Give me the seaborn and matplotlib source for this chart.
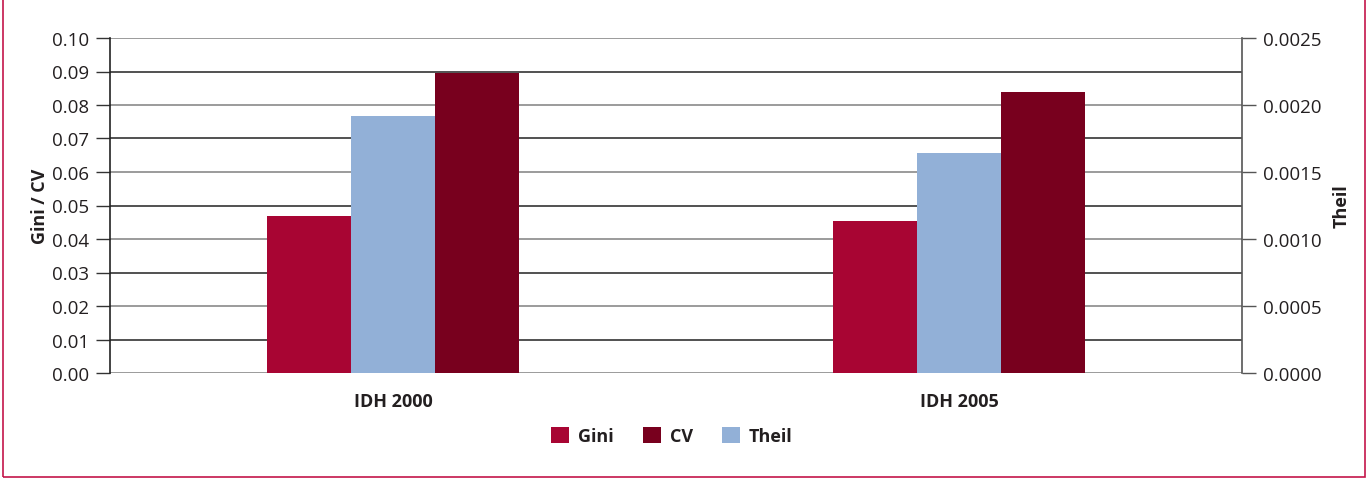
import pandas as pd
import numpy as np
import matplotlib
matplotlib.use("Agg")
import matplotlib.pyplot as plt
import seaborn as sns
from matplotlib.patches import Patch, Rectangle

# Datos
categorias = ["IDH 2000", "IDH 2005"]
gini = [0.0469, 0.0454]
cv = [0.0896, 0.0839]
theil = [0.00192, 0.00164]   # eje secundario

colores = {"Gini": "#A80533", "Theil": "#92B0D7", "CV": "#78001E"}
ylim_izq = 0.10
ylim_der = 0.0025

sns.set_theme(style="white")
plt.rcParams["font.family"] = ["Open Sans", "DejaVu Sans"]

# Theil se lleva a la escala del eje izquierdo para que comparta el grupo de barras
escala = ylim_izq / ylim_der
df = pd.DataFrame({
    "cat": categorias * 3,
    "serie": ["Gini"] * 2 + ["Theil"] * 2 + ["CV"] * 2,
    "valor": gini + [t * escala for t in theil] + cv,
})

fig = plt.figure(figsize=(13.72, 4.81), dpi=100)
ax = fig.add_axes([110 / 1372, 1 - 374 / 481, 1132 / 1372, 335 / 481])

sns.barplot(data=df, x="cat", y="valor", hue="serie", hue_order=["Gini", "Theil", "CV"],
            palette=colores, width=0.445, saturation=1, ax=ax, legend=False, zorder=3)
for p in ax.patches:
    p.set_edgecolor("none")

ax.set_xlim(-0.5, 1.5)
ax.set_ylim(0, ylim_izq)
ax.set_yticks(np.arange(0, 0.1001, 0.01))
ax.set_yticklabels([f"{v:.2f}" for v in np.arange(0, 0.1001, 0.01)])
ax.set_xlabel("")
ax.set_ylabel("Gini / CV", fontsize=13, fontweight="bold", color="#231f20", labelpad=2)
ax.tick_params(axis="y", length=10, width=1, color="#333333", labelsize=13.5,
               labelcolor="#231f20", left=True, pad=5)
ax.tick_params(axis="x", length=0, labelsize=13, pad=14)
for lbl in ax.get_xticklabels():
    lbl.set_fontweight("bold")
    lbl.set_color("#231f20")

# Rejilla alternando tonos, como en el original
ax.yaxis.grid(True, linewidth=1.2, zorder=0)
for i, gl in enumerate(ax.get_ygridlines()):
    gl.set_color("#8a8a8a" if i % 2 == 0 else "#333333")
ax.set_axisbelow(True)

for s in ["top", "bottom", "right"]:
    ax.spines[s].set_visible(False)
ax.spines["left"].set_color("#222222")
ax.spines["left"].set_linewidth(1.2)

ax2 = ax.twinx()
ax2.set_ylim(0, ylim_der)
ax2.set_yticks(np.arange(0, 0.00251, 0.0005))
ax2.set_yticklabels([f"{v:.4f}" for v in np.arange(0, 0.00251, 0.0005)])
ax2.set_ylabel("Theil", fontsize=13, fontweight="bold", color="#231f20",
               rotation=90, labelpad=8)
ax2.tick_params(axis="y", length=10, width=1, color="#555555", labelsize=13.5,
                labelcolor="#231f20", right=True, pad=5)
for s in ["top", "bottom", "left"]:
    ax2.spines[s].set_visible(False)
ax2.spines["right"].set_color("#555555")
ax2.spines["right"].set_linewidth(1.2)
ax2.grid(False)

# Leyenda abajo: Gini, CV, Theil
handles = [Patch(facecolor=colores[k], edgecolor="none", label=k) for k in ["Gini", "CV", "Theil"]]
leg = fig.legend(handles=handles, loc="center", bbox_to_anchor=(672 / 1372, 1 - 437 / 481),
                 ncol=3, frameon=False, handlelength=1.0, handleheight=1.0,
                 handletextpad=0.5, columnspacing=1.6,
                 prop={"size": 13, "weight": "bold"})
for t in leg.get_texts():
    t.set_color("#231f20")

# Marco rojo del recuadro original
fig.add_artist(Rectangle((3 / 1372, 3 / 481), 1362 / 1372, 1.0, transform=fig.transFigure,
                         fill=False, edgecolor="#c4154a", linewidth=1.2, clip_on=False))

fig.savefig("out.png", dpi=100)
